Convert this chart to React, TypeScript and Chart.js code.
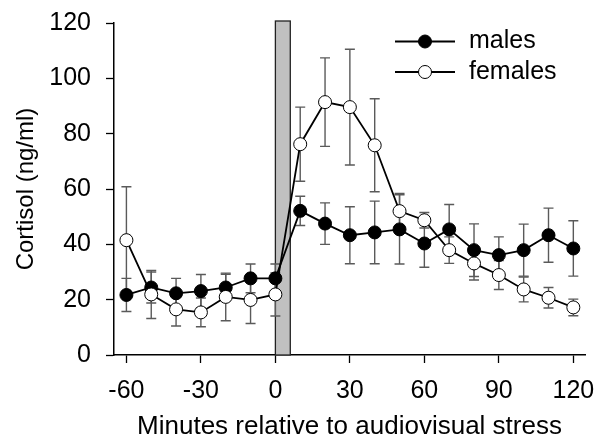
import React, { useEffect, useRef } from "react";
import { Chart, registerables } from "chart.js";

Chart.register(...registerables);

const minutes = [-60, -50, -40, -30, -20, -10, 0, 10, 20, 30, 40, 50, 60, 70, 80, 90, 100, 110, 120];
const maleMean = [21.7, 24.4, 22.3, 23.1, 24.4, 27.7, 27.7, 52.1, 47.5, 43.3, 44.3, 45.4, 40.3, 45.4, 37.9, 36.1, 37.9, 43.3, 38.5];
const maleSem = [6.0, 5.6, 5.4, 6.0, 4.8, 5.2, 5.2, 5.3, 7.5, 10.3, 11.3, 12.5, 8.6, 9.0, 9.5, 6.6, 9.4, 9.8, 10.0];
const femaleMean = [41.5, 21.9, 16.5, 15.4, 21.0, 19.9, 21.9, 76.2, 91.4, 89.6, 75.8, 52.0, 48.7, 37.9, 33.1, 28.9, 23.7, 20.7, 17.2];
const femaleSem = [19.3, 8.7, 6.0, 5.2, 8.6, 8.5, 7.8, 13.4, 16.0, 20.9, 16.8, 6.4, 2.8, 4.8, 6.0, 5.2, 4.5, 3.7, 3.0];
const xTickValues = [-60, -30, 0, 30, 60, 90, 120];
const yTickValues = [0, 20, 40, 60, 80, 100, 120];
const stressStart = 0;
const stressEnd = 6;
const seriesLabels = ["males", "females"];
const xTitle = "Minutes relative to audiovisual stress";
const yTitle = "Cortisol (ng/ml)";

const FONT = "'Liberation Sans', Arial, sans-serif";

export default function App() {
  const ref = useRef<HTMLCanvasElement>(null);

  useEffect(() => {
    const canvas = ref.current;
    if (!canvas) return;

    const backdrop = {
      id: "backdrop",
      beforeDatasetsDraw(chart: any) {
        const { ctx, chartArea, scales } = chart;
        const x = scales.x;
        const y = scales.y;
        ctx.save();
        const x0 = x.getPixelForValue(stressStart);
        const x1 = x.getPixelForValue(stressEnd);
        const yb = y.getPixelForValue(0);
        const yt = chartArea.top - 2;
        ctx.fillStyle = "#c0c0c0";
        ctx.fillRect(x0, yt, x1 - x0, yb - yt);
        ctx.strokeStyle = "#222";
        ctx.lineWidth = 1.3;
        ctx.strokeRect(x0, yt, x1 - x0, yb - yt);
        ctx.strokeStyle = "#5a5a5a";
        ctx.lineWidth = 1.4;
        chart.data.datasets.forEach((ds: any) => {
          ds.data.forEach((p: any, i: number) => {
            const e = ds.errors[i];
            const px = x.getPixelForValue(p.x);
            const top = y.getPixelForValue(p.y + e);
            const bot = y.getPixelForValue(p.y - e);
            ctx.beginPath();
            ctx.moveTo(px, top);
            ctx.lineTo(px, bot);
            ctx.moveTo(px - 5, top);
            ctx.lineTo(px + 5, top);
            ctx.moveTo(px - 5, bot);
            ctx.lineTo(px + 5, bot);
            ctx.stroke();
          });
        });
        ctx.restore();
      },
    };

    const legendPlugin = {
      id: "customLegend",
      afterDraw(chart: any) {
        const { ctx, chartArea } = chart;
        ctx.save();
        const lx0 = chartArea.right - 190;
        const lx1 = chartArea.right - 130;
        const tx = chartArea.right - 116;
        const rows = [chartArea.top + 18.5, chartArea.top + 49];
        chart.data.datasets.forEach((ds: any, i: number) => {
          const yy = rows[i];
          ctx.strokeStyle = "#000";
          ctx.lineWidth = 1.8;
          ctx.beginPath();
          ctx.moveTo(lx0, yy);
          ctx.lineTo(lx1, yy);
          ctx.stroke();
          ctx.beginPath();
          ctx.arc((lx0 + lx1) / 2, yy, 6.5, 0, Math.PI * 2);
          ctx.fillStyle = ds.pointBackgroundColor;
          ctx.fill();
          ctx.lineWidth = 1;
          ctx.stroke();
          ctx.fillStyle = "#000";
          ctx.font = `25px ${FONT}`;
          ctx.textBaseline = "middle";
          ctx.textAlign = "left";
          ctx.fillText(ds.label, tx, yy);
        });
        ctx.restore();
      },
    };

    const chart = new Chart(canvas, {
      type: "line",
      data: {
        datasets: [
          {
            label: seriesLabels[0],
            data: minutes.map((m, i) => ({ x: m, y: maleMean[i] })),
            errors: maleSem,
            borderColor: "#000",
            borderWidth: 1.8,
            pointBackgroundColor: "#000",
            pointBorderColor: "#000",
            pointBorderWidth: 1,
            pointRadius: 6.5,
            pointHoverRadius: 6.5,
            order: 1,
            tension: 0,
          } as any,
          {
            label: seriesLabels[1],
            data: minutes.map((m, i) => ({ x: m, y: femaleMean[i] })),
            errors: femaleSem,
            borderColor: "#000",
            borderWidth: 1.8,
            pointBackgroundColor: "#fff",
            pointBorderColor: "#000",
            pointBorderWidth: 1,
            pointRadius: 6.5,
            pointHoverRadius: 6.5,
            order: 0,
            tension: 0,
          } as any,
        ],
      },
      options: {
        animation: false,
        responsive: false,
        devicePixelRatio: 1,
        events: [],
        layout: { padding: { top: 23, right: 11, left: 0, bottom: 0 } },
        plugins: {
          legend: { display: false },
          tooltip: { enabled: false },
          title: { display: false },
        },
        scales: {
          x: {
            type: "linear",
            min: -65,
            max: 124.7,
            afterFit(scale: any) {
              scale.height = 91;
              scale.paddingLeft = 0;
              scale.paddingRight = 0;
            },
            afterBuildTicks(scale: any) {
              scale.ticks = xTickValues.map((v) => ({ value: v }));
            },
            grid: {
              display: true,
              drawOnChartArea: false,
              drawTicks: true,
              tickLength: 8,
              tickColor: "#000",
              tickWidth: 1.3,
            },
            border: { display: true, color: "#000", width: 1.5 },
            ticks: {
              color: "#000",
              font: { family: FONT, size: 25 },
              padding: 13,
              maxRotation: 0,
              autoSkip: false,
            },
            title: {
              display: true,
              text: xTitle,
              color: "#000",
              font: { family: FONT, size: 26 },
              padding: { top: 0, bottom: 4 },
            },
          },
          y: {
            type: "linear",
            min: 0,
            max: 120,
            afterFit(scale: any) {
              scale.width = 114;
              scale.paddingTop = 0;
              scale.paddingBottom = 0;
            },
            afterBuildTicks(scale: any) {
              scale.ticks = yTickValues.map((v) => ({ value: v }));
            },
            grid: {
              display: true,
              drawOnChartArea: false,
              drawTicks: true,
              tickLength: 8,
              tickColor: "#000",
              tickWidth: 1.3,
            },
            border: { display: true, color: "#000", width: 1.5 },
            ticks: {
              color: "#000",
              font: { family: FONT, size: 25 },
              padding: 15,
              autoSkip: false,
            },
            title: {
              display: true,
              text: yTitle,
              color: "#000",
              font: { family: FONT, size: 24 },
              padding: { top: 12, bottom: 0 },
            },
          },
        },
      } as any,
      plugins: [backdrop, legendPlugin],
    });

    return () => chart.destroy();
  }, []);

  return (
    <div style={{ position: "absolute", left: 0, top: 0, width: 596, height: 446, background: "#fff" }}>
      <canvas ref={ref} width={596} height={446} style={{ width: 596, height: 446, display: "block" }} />
    </div>
  );
}
